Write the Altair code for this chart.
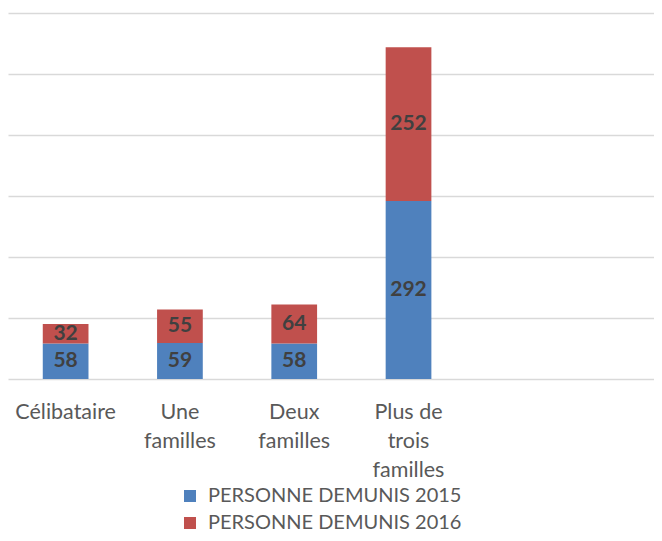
import altair as alt
import pandas as pd

categories = ["Célibataire", "Une familles", "Deux familles", "Plus de trois familles"]
series = ["PERSONNE DEMUNIS 2015", "PERSONNE DEMUNIS 2016"]
values_2015 = [58, 59, 58, 292]
values_2016 = [32, 55, 64, 252]
colors = ["#4F81BD", "#C0504D"]
empty_slot = ["_"]
y_ticks = [0, 100, 200, 300, 400, 500, 600]

rows = []
for i, c in enumerate(categories):
    rows.append({"cat": c, "series": series[0], "value": values_2015[i], "order": 0})
    rows.append({"cat": c, "series": series[1], "value": values_2016[i], "order": 1})
df = pd.DataFrame(rows)

x_domain = categories + empty_slot
x_scale = alt.Scale(domain=x_domain, paddingInner=0.6, paddingOuter=0.626, align=0.243)
y_scale = alt.Scale(domain=[0, 600])

label_expr = ("datum.label == '_' ? '' : "
              "(datum.label == 'Plus de trois familles' ? ['Plus de', 'trois', 'familles'] : "
              "split(datum.label, ' '))")

x_enc = alt.X("cat:N", scale=x_scale, sort=x_domain,
              axis=alt.Axis(title=None, ticks=False, domain=False, labelAngle=0,
                            labelFontSize=21.5, labelColor="#595959", labelFont="Lato",
                            labelPadding=22, labelLineHeight=29, labelBaseline="top",
                            labelExpr=label_expr, labelOverlap=False, labelLimit=0))

bars = alt.Chart(df).mark_bar().encode(
    x=x_enc,
    y=alt.Y("value:Q", stack="zero", scale=y_scale,
            axis=alt.Axis(title=None, labels=False, ticks=False, domain=False, grid=True,
                          values=y_ticks, gridColor="#d9d9d9", gridWidth=1.5)),
    color=alt.Color("series:N", scale=alt.Scale(domain=series, range=colors),
                    legend=alt.Legend(title=None, orient="none", legendX=172, legendY=473,
                                      direction="vertical", symbolType="square", symbolSize=144,
                                      symbolStrokeWidth=0, labelFontSize=20, labelFont="Lato",
                                      labelColor="#595959", rowPadding=7, labelOffset=8,
                                      labelLimit=0, padding=0)),
    order=alt.Order("order:Q"),
)

texts = alt.Chart(df).transform_stack(
    stack="value", as_=["y0", "y1"], groupby=["cat"], sort=[alt.SortField("order")]
).transform_calculate(
    mid="(datum.y0 + datum.y1) / 2"
).mark_text(fontWeight="bold", fontSize=21, color="#404040", font="Lato").encode(
    x=alt.X("cat:N", scale=x_scale, sort=x_domain),
    y=alt.Y("mid:Q", scale=y_scale),
    text=alt.Text("value:Q"),
)

chart = alt.layer(bars, texts).properties(
    width=646, height=366,
    padding={"left": 0, "top": 5, "right": 0, "bottom": 0},
).configure_view(stroke=None)

chart.save("out.html", embed_options={"renderer": "svg", "actions": False})
